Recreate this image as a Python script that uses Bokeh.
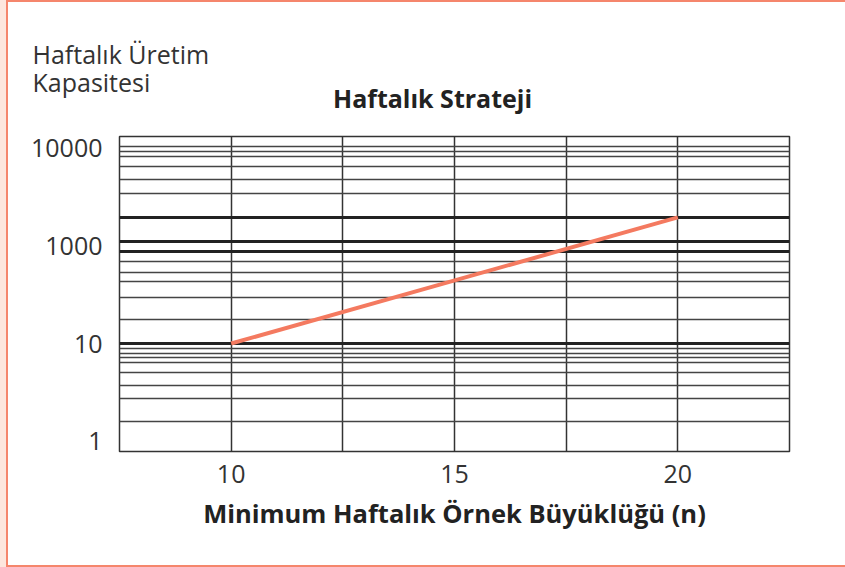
from bokeh.plotting import figure
from bokeh.layouts import column
from bokeh.models import Range1d, FixedTicker, Grid
from bokeh.core.properties import value
from bokeh.embed import file_html
from bokeh.resources import INLINE

# ---- data ----
x_ticks = [10, 15, 20]
x_grid_lines = [10, 12.5, 15, 17.5, 20]
y_ticks = [1, 10, 100, 1000]
y_tick_labels = ["1", "10", "1000", "10000"]
y_thin_lines = [1.61, 2.76, 3.72, 5.05, 6.39, 7.11, 7.99, 8.89,
                17.7, 29.6, 42.8, 53.6, 69.8,
                345, 471, 651, 819, 921, 1036]
y_thick_lines = [10, 87.9, 110.5, 195]
line_x = [10, 20]
line_y = [10, 195]

title_text = "Haftalık Strateji"
y_title_lines = ["Haftalık Üretim", "Kapasitesi"]
x_title = "Minimum Haftalık Örnek Büyüklüğü (n)"

SALMON = "#f5866c"
PINK = "#fde7de"
FONT = "Open Sans"
W = 837

# ---- header (texts above the chart) ----
HH = 120
hdr = figure(width=W, height=HH, output_backend="svg", toolbar_location=None,
             title=None, x_axis_location=None, y_axis_location=None,
             x_range=Range1d(0, W), y_range=Range1d(HH, 0),
             min_border=0)
hdr.frame_align = False
hdr.grid.visible = False
hdr.outline_line_color = None
hdr.background_fill_color = "white"
hdr.border_fill_color = "white"
hdr.text(x=[24, 24], y=[51, 79], text=y_title_lines,
         text_font=value(FONT), text_font_size=value("25px"),
         text_color="#333333", text_baseline="alphabetic", text_align="left")
hdr.text(x=[324.5], y=[95], text=[title_text],
         text_font=value(FONT), text_font_size=value("25px"),
         text_font_style="bold",
         text_color="#222222", text_baseline="alphabetic", text_align="left")

# ---- main chart ----
p = figure(width=W, height=443, output_backend="svg", toolbar_location=None,
           title=None, y_axis_type="log",
           x_range=Range1d(7.5, 22.5), y_range=Range1d(0.7856, 1311),
           min_border_left=111, min_border_right=56,
           min_border_top=14, min_border_bottom=114)
p.frame_align = False
p.background_fill_color = "white"
p.border_fill_color = "white"
p.outline_line_color = "#333333"
p.outline_line_width = 1.5

p.xaxis.ticker = FixedTicker(ticks=x_ticks)
p.xaxis.axis_line_color = None
p.xaxis.major_tick_line_color = None
p.xaxis.minor_tick_line_color = None
p.xaxis.major_label_text_font = FONT
p.xaxis.major_label_text_font_size = "25px"
p.xaxis.major_label_text_color = "#333333"
p.xaxis.major_label_standoff = 7
p.xaxis.axis_label = x_title
p.xaxis.axis_label_text_font = FONT
p.xaxis.axis_label_text_font_style = "bold"
p.xaxis.axis_label_text_font_size = "25.5px"
p.xaxis.axis_label_text_color = "#222222"
p.xaxis.axis_label_standoff = 10

p.yaxis.ticker = FixedTicker(ticks=y_ticks)
p.yaxis.major_label_overrides = dict(zip(y_ticks, y_tick_labels))
p.yaxis.axis_line_color = None
p.yaxis.major_tick_line_color = None
p.yaxis.minor_tick_line_color = None
p.yaxis.major_label_text_font = FONT
p.yaxis.major_label_text_font_size = "25px"
p.yaxis.major_label_text_color = "#333333"
p.yaxis.major_label_standoff = 11

p.xgrid.ticker = FixedTicker(ticks=x_grid_lines)
p.xgrid.grid_line_color = "#333333"
p.xgrid.grid_line_width = 1.5
p.ygrid.ticker = FixedTicker(ticks=y_thin_lines)
p.ygrid.grid_line_color = "#444444"
p.ygrid.grid_line_width = 1.3
thick = Grid(dimension=1, ticker=FixedTicker(ticks=y_thick_lines),
             grid_line_color="#222222", grid_line_width=3)
p.add_layout(thick)

p.line(line_x, line_y, line_color="#f47a60", line_width=4)

page = column(hdr, p, spacing=0)
page.styles = {
    "position": "absolute", "left": "6px", "top": "0px",
    "border-top": f"2px solid {SALMON}",
    "border-left": f"2px solid {SALMON}",
    "border-bottom": f"2px solid {SALMON}",
    "box-shadow": f"-6px 0px 0px 0px {PINK}",
    "background-color": "white",
}

open("out.html", "w").write(file_html(page, INLINE))
